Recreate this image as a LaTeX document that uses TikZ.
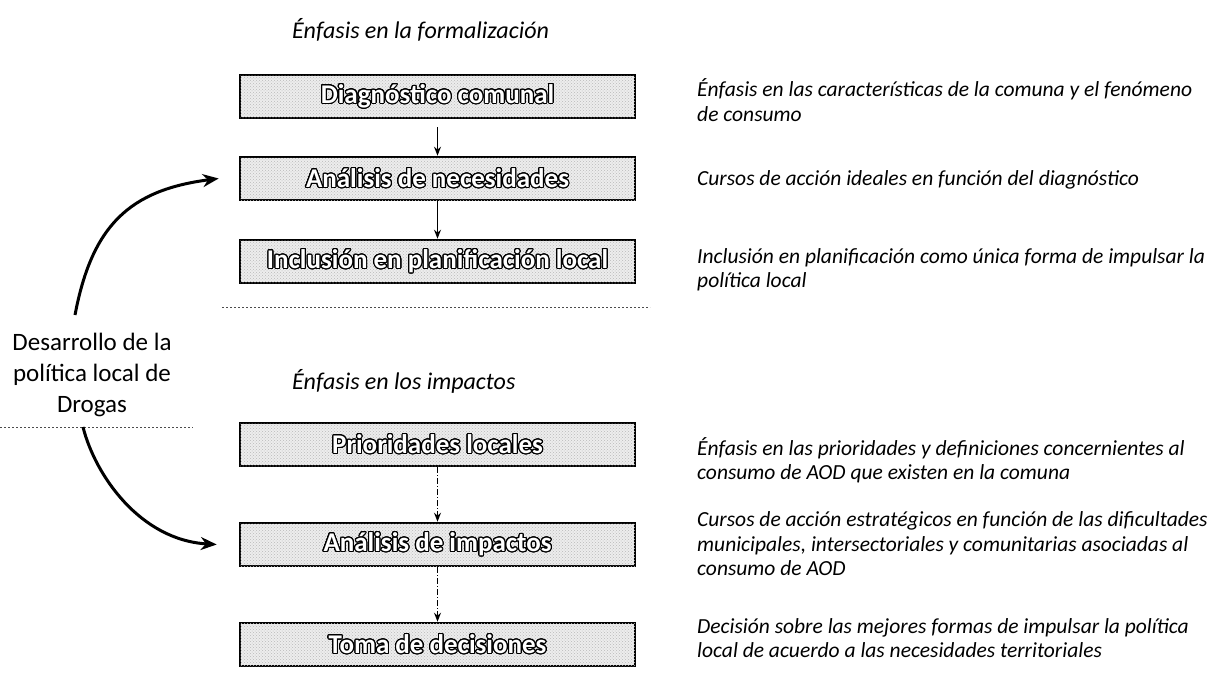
\documentclass[tikz,border=0pt]{standalone}
\usepackage{fontspec}
\setmainfont{Carlito}
\usepackage{contour}
\contourlength{1.1pt}
\contournumber{24}
\usetikzlibrary{arrows.meta,patterns}
\tikzset{
  stagebox/.style={draw=black, line width=2.6pt, fill=gray!14,
    postaction={pattern=crosshatch dots, pattern color=gray!55},
    minimum width=395pt, minimum height=43pt, inner sep=0pt, text=white,
    font=\fontsize{27}{30}\selectfont\bfseries},
  note/.style={anchor=west, align=left, inner sep=0pt,
    font=\fontsize{21.5}{24.5}\selectfont\itshape},
  heading/.style={anchor=west, inner sep=0pt,
    font=\fontsize{24}{28}\selectfont\itshape},
  sidetext/.style={align=center, inner sep=0pt,
    font=\fontsize{25}{31}\selectfont},
  flowarrow/.style={-{Stealth[length=9pt,width=7pt]}, line width=1.2pt},
  flowdash/.style={-{Stealth[length=9pt,width=7pt]}, line width=1.2pt, dash pattern=on 6pt off 2pt on 1pt off 2pt},
  bigarrow/.style={-{Stealth[length=16pt,width=13pt]}, line width=3pt},
  sepline/.style={line width=1pt, dash pattern=on 2pt off 2pt, black!70}
}
\begin{document}
\begin{tikzpicture}[x=1pt,y=-1pt]
\useasboundingbox (0,0) rectangle (1225,685);

% headings
\node[heading] (t1) at (292,30) {Énfasis en la formalización};
\node[heading] (t2) at (292,381) {Énfasis en los impactos};

% boxes
\node[stagebox] (b1) at (437.5,96.5) {\contour{black}{Diagnóstico comunal}};
\node[stagebox] (b2) at (437.5,178.5) {\contour{black}{Análisis de necesidades}};
\node[stagebox] (b3) at (437.5,261.5) {\contour{black}{Inclusión en planificación local}};
\node[stagebox] (b4) at (437.5,444.5) {\contour{black}{Prioridades locales}};
\node[stagebox] (b5) at (437.5,544.5) {\contour{black}{Análisis de impactos}};
\node[stagebox] (b6) at (437.5,644.5) {\contour{black}{Toma de decisiones}};

\draw[flowarrow] ([yshift=-8pt]b1.south) -- (b2.north);
\draw[flowarrow] (b2.south) -- (b3.north);
\draw[flowdash] (b4.south) -- (b5.north);
\draw[flowdash] (b5.south) -- (b6.north);

% separators
\coordinate (s1a) at (222,307);
\coordinate (s1b) at (650,307);
\draw[sepline] (s1a) -- (s1b);
\coordinate (s2a) at (0,427);
\coordinate (s2b) at (193,427);
\draw[sepline] (s2a) -- (s2b);

% side text
\node[sidetext] (dev) at (92,375) {Desarrollo de la\\política local de\\Drogas};

\coordinate (u0) at (75,315);
\coordinate (l0) at (83,427);
\draw[bigarrow] (u0) .. controls (92,225) and (130,190) .. ([xshift=-20pt]b2.west);
\draw[bigarrow] (l0) .. controls (95,475) and (140,540) .. ([xshift=-22pt]b5.west);

% notes
\node[note] (r1) at (697,100) {Énfasis en las características de la comuna y el fenómeno\\de consumo};
\node[note] (r2) at (697,180) {Cursos de acción ideales en función del diagnóstico};
\node[note] (r3) at (697,270) {Inclusión en planificación como única forma de impulsar la\\política local};
\node[note] (r4) at (697,460) {Énfasis en las prioridades y definiciones concernientes al\\consumo de AOD que existen en la comuna};
\node[note] (r5) at (697,544) {Cursos de acción estratégicos en función de las dificultades\\municipales, intersectoriales y comunitarias asociadas al\\consumo de AOD};
\node[note] (r6) at (697,638) {Decisión sobre las mejores formas de impulsar la política\\local de acuerdo a las necesidades territoriales};
\end{tikzpicture}
\end{document}
